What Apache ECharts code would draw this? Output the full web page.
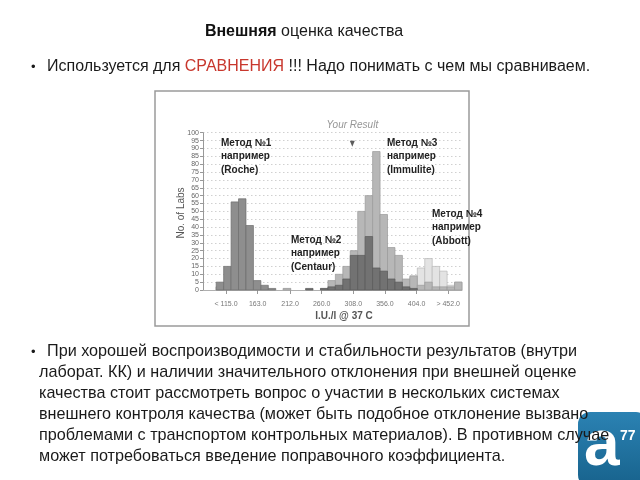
<!DOCTYPE html>
<html><head><meta charset="utf-8">
<script src="https://cdn.jsdelivr.net/npm/echarts@6/dist/echarts.min.js"></script>
<style>html,body{margin:0;padding:0;background:#fff}#c{width:640px;height:480px}</style>
</head><body><div id="c"></div>
<script>
// Histogram bins (I.U./l), 33 bins
const binStart = 100;
const binWidth = 11.3;
const tickValues = [115, 163, 212, 260, 308, 356, 404, 452];
const tickLabels = ['< 115.0', '163.0', '212.0', '260.0', '308.0', '356.0', '404.0', '> 452.0'];
const roche    = [5,15,56,58,41,6,3,1,0,0,0,0,0,0,0,0,0,0,0,0,0,0,0,0,0,0,0,0,0,0,0,0,0];
const centaur  = [0,0,0,0,0,0,0,0,0,0,0,0,1,0,1,2,3,7,22,22,34,14,12,7,5,2,1,0,0,0,0,0,0];
const immulite = [2,0,0,0,0,0,0,0,0,1,0,0,0,0,1,6,10,15,25,50,60,88,48,27,22,7,9,3,5,2,2,2,5];
const abbott   = [2,0,0,0,0,0,0,0,0,1,0,0,0,0,0,0,0,0,0,0,0,0,0,0,0,0,8,14,20,15,12,3,5];
const yourResult = [306.5, 93];

const FONT = '"Liberation Sans", Arial, sans-serif';

function histSeries(name, data, fill, stroke) {
  return {
    type: 'custom', name,
    data: data.map((v, i) => [binStart + i * binWidth, binStart + (i + 1) * binWidth, v]),
    encode: { x: [0, 1], y: 2 },
    renderItem: (params, api) => {
      const v = api.value(2);
      if (!v) return null;
      const p0 = api.coord([api.value(0), v]);
      const p1 = api.coord([api.value(1), 0]);
      return { type: 'rect',
        shape: { x: p0[0], y: p0[1], width: p1[0] - p0[0], height: p1[1] - p0[1] },
        style: { fill, stroke, lineWidth: 0.7 } };
    }
  };
}

function txt(x, y, text, o) {
  o = o || {};
  return { type: 'text', x, y, z: o.z || 10, style: Object.assign({
    text, fontFamily: FONT, fontSize: 16.2, fill: '#1a1a1a', align: 'left', verticalAlign: 'middle'
  }, o.style || {}) };
}

function methodLabel(x, y0, lines) {
  return lines.map((t, i) => txt(x, y0 + i * 13.4, t, { style: { fontSize: 10, fontWeight: 'bold', fill: '#222' } }));
}

const chart = echarts.init(document.getElementById('c'), null, { renderer: 'canvas' });

const graphics = [
  { type: 'rect', z: 0, shape: { x: 155, y: 91, width: 314, height: 235 },
    style: { fill: '#fff', stroke: '#9a9a9a', lineWidth: 1.5 } },
  txt(304, 32, '{b|Внешняя} оценка качества', { style: { align: 'center', fontSize: 16,
    rich: { b: { fontWeight: 'bold', fontSize: 16, fontFamily: FONT, fill: '#111' } } } }),
  txt(31, 67, '•', { style: { fontSize: 13 } }),
  txt(47, 67, 'Используется для {r|СРАВНЕНИЯ} !!! Надо понимать с чем мы сравниваем.', { style: {
    fontSize: 16, rich: { r: { fill: '#c8372d', fontSize: 16, fontFamily: FONT } } } }),
  // logo
  { type: 'rect', z: 5, shape: { x: 578, y: 412, width: 70, height: 75, r: 12 },
    style: { fill: new echarts.graphic.LinearGradient(0, 0, 0, 1, [{ offset: 0, color: '#2b82b3' }, { offset: 1, color: '#17628c' }]) } },
  txt(584, 479, 'a', { z: 6, style: { fontSize: 64, fontWeight: 'bold', fill: '#ffffff', verticalAlign: 'bottom' } }),
  txt(620, 436, '77', { z: 6, style: { fontSize: 14, fontWeight: 'bold', fill: '#ffffff' } }),
  txt(31, 352, '•', { style: { fontSize: 13 } }),
  txt(47, 352, 'При хорошей воспроизводимости и стабильности результатов (внутри'),
  txt(39, 373, 'лаборат. КК) и наличии значительного отклонения при внешней оценке'),
  txt(39, 394, 'качества стоит рассмотреть вопрос о участии в нескольких системах'),
  txt(39, 415, 'внешнего контроля качества (может быть подобное отклонение вызвано'),
  txt(39, 436, 'проблемами с транспортом контрольных материалов). В противном случае'),
  txt(39, 457, 'может потребоваться введение поправочного коэффициента.'),
  // chart annotations
  ...methodLabel(221, 143, ['Метод №1', 'например', '(Roche)']),
  ...methodLabel(387, 143, ['Метод №3', 'например', '(Immulite)']),
  ...methodLabel(291, 240, ['Метод №2', 'например', '(Centaur)']),
  ...methodLabel(432, 214, ['Метод №4', 'например', '(Abbott)']),
  { type: 'text', x: 181, y: 213, rotation: Math.PI / 2, z: 10,
    style: { text: 'No. of Labs', fontFamily: FONT, fontSize: 10, fill: '#555', align: 'center', verticalAlign: 'middle' } },
  txt(344, 316, 'I.U./l @ 37 C', { style: { fontSize: 10, fontWeight: 'bold', fill: '#555', align: 'center' } })
];

chart.setOption({
  animation: false,
  backgroundColor: '#fff',
  grid: { left: 203, right: 640 - 462, top: 132.7, bottom: 190, containLabel: false },
  xAxis: {
    type: 'value', min: 80, max: binStart + 33 * binWidth,
    axisLine: { show: true, lineStyle: { color: '#b0b0b0', width: 1 } },
    axisTick: { show: true, customValues: tickValues, length: 4, lineStyle: { color: '#999' } },
    axisLabel: { customValues: tickValues, fontSize: 7, color: '#777', fontFamily: FONT, margin: 11,
      formatter: v => tickLabels[tickValues.indexOf(v)] },
    splitLine: { show: false }
  },
  yAxis: {
    type: 'value', min: 0, max: 100, interval: 5,
    axisLine: { show: true, lineStyle: { color: '#999' } },
    axisTick: { show: true, length: 3, lineStyle: { color: '#999' } },
    axisLabel: { fontSize: 7, color: '#666', fontFamily: FONT, margin: 4 },
    splitLine: { show: true, lineStyle: { color: '#c4c4c4', type: [1.5, 2.5], width: 0.8 } }
  },
  series: [
    histSeries('Abbott', abbott, '#e3e3e3', '#b8b8b8'),
    histSeries('Immulite', immulite, '#b7b7b7', '#999'),
    histSeries('Roche', roche, '#8e8e8e', '#6e6e6e'),
    histSeries('Centaur', centaur, '#727272', '#5a5a5a'),
    { type: 'scatter', data: [yourResult], symbol: 'triangle', symbolRotate: 180, symbolSize: [5, 6],
      itemStyle: { color: '#333' }, z: 5,
      label: { show: true, position: 'top', distance: 10, formatter: 'Your Result',
        fontStyle: 'italic', fontSize: 10, color: '#7a7a7a', fontFamily: FONT } }
  ],
  graphic: graphics
});
</script></body></html>
